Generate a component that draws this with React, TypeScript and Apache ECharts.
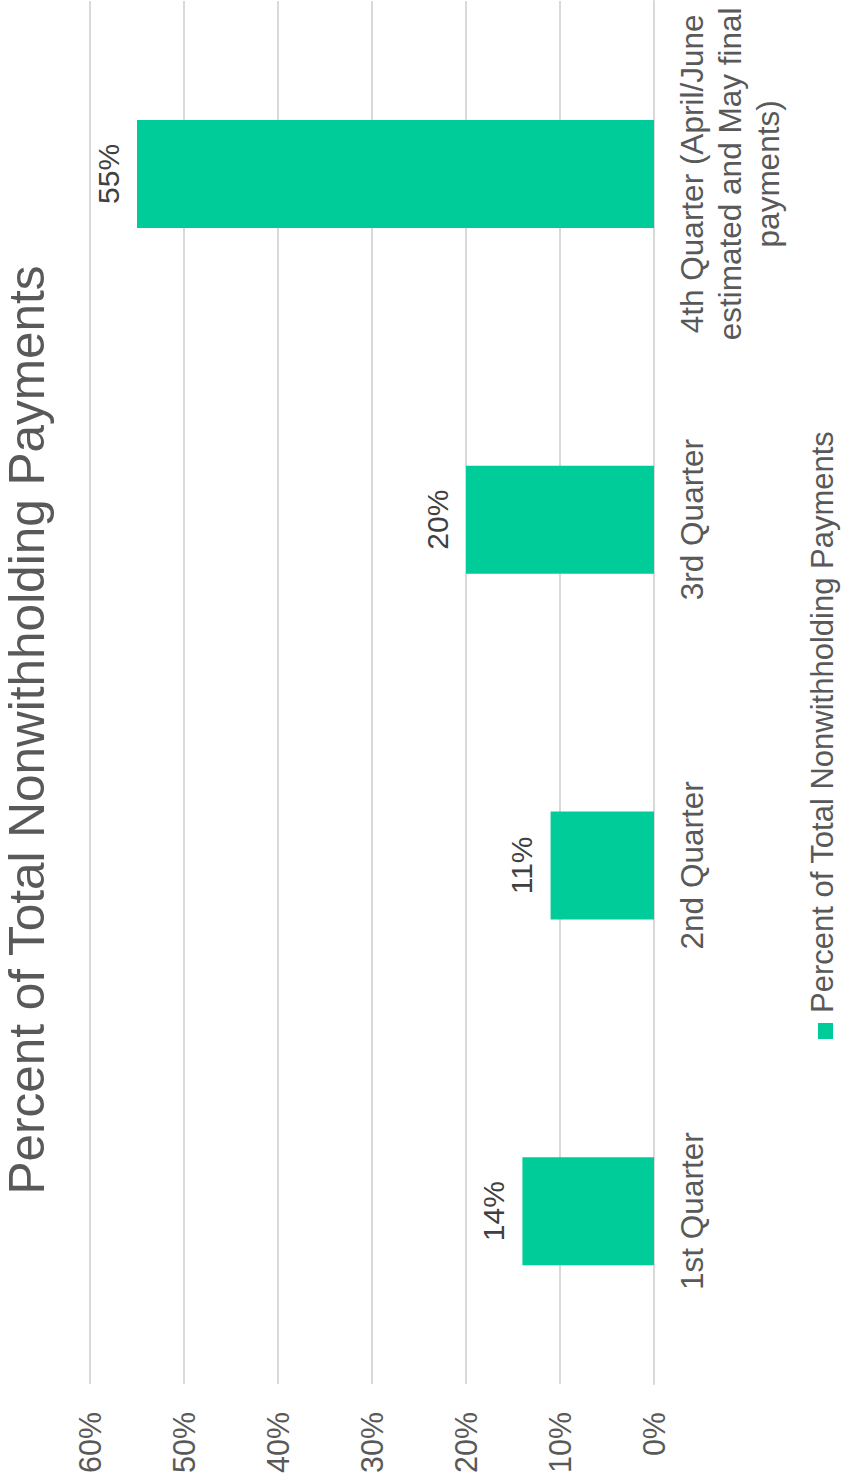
import React, { useEffect, useRef } from "react";
import * as echarts from "echarts";

const categories = [
  "1st Quarter",
  "2nd Quarter",
  "3rd Quarter",
  "4th Quarter (April/June estimated and May final payments)",
];
const values = [14, 11, 20, 55];
const valueTicks = [0, 10, 20, 30, 40, 50, 60];
const seriesName = "Percent of Total Nonwithholding Payments";
const chartTitle = "Percent of Total Nonwithholding Payments";

const BAR_COLOR = "#00CC99";
const TEXT_COLOR = "#595959";
const GRID_COLOR = "#D9D9D9";
const FONT = "'Liberation Sans', Arial, sans-serif";

function wrapLabel(s: string, maxChars: number): string {
  const words = s.split(" ");
  const lines: string[] = [];
  let cur = "";
  for (const w of words) {
    if (!cur) cur = w;
    else if ((cur + " " + w).length <= maxChars) cur = cur + " " + w;
    else {
      lines.push(cur);
      cur = w;
    }
  }
  if (cur) lines.push(cur);
  return lines.join("\n");
}

export default function App() {
  const ref = useRef<HTMLDivElement>(null);
  useEffect(() => {
    document.body.style.margin = "0";
    const chart = echarts.init(ref.current as HTMLDivElement, null, { renderer: "svg" });
    chart.setOption({
      animation: false,
      backgroundColor: "#ffffff",
      textStyle: { fontFamily: FONT },
      grid: { left: 90, right: 191, top: 1, bottom: 100, containLabel: false },
      xAxis: {
        type: "value",
        inverse: true,
        position: "bottom",
        min: valueTicks[0],
        max: valueTicks[valueTicks.length - 1],
        interval: valueTicks[1] - valueTicks[0],
        axisLine: { show: false },
        axisTick: { show: false },
        splitLine: { show: true, lineStyle: { color: GRID_COLOR, width: 2 } },
        axisLabel: {
          rotate: 90,
          margin: 28,
          fontSize: 30.5,
          fontFamily: FONT,
          color: TEXT_COLOR,
          formatter: "{value}%",
        },
      },
      yAxis: {
        type: "category",
        position: "right",
        data: categories,
        axisLine: { show: true, lineStyle: { color: GRID_COLOR, width: 2 } },
        axisTick: { show: false },
        splitLine: { show: false },
        axisLabel: {
          rotate: 90,
          margin: 19,
          fontSize: 31.5,
          lineHeight: 38,
          fontFamily: FONT,
          color: TEXT_COLOR,
          interval: 0,
          formatter: (v: string) => wrapLabel(v, 23),
        },
      },
      series: [
        {
          name: seriesName,
          type: "bar",
          data: values,
          barWidth: 108,
          itemStyle: { color: BAR_COLOR },
          label: {
            show: true,
            position: "left",
            distance: 14,
            rotate: 90,
            align: "center",
            verticalAlign: "bottom",
            fontSize: 30,
            fontFamily: FONT,
            color: "#404040",
            formatter: "{c}%",
          },
        },
      ],
      graphic: [
        {
          type: "text",
          x: 26,
          y: 730,
          rotation: Math.PI / 2,
          style: {
            text: chartTitle,
            fontSize: 49.5,
            fontFamily: FONT,
            fill: TEXT_COLOR,
            align: "center",
            verticalAlign: "middle",
            textAlign: "center",
            textVerticalAlign: "middle",
          },
        },
        {
          type: "group",
          x: 826,
          y: 1031,
          rotation: Math.PI / 2,
          children: [
            {
              type: "rect",
              shape: { x: -8, y: -8, width: 16, height: 15 },
              style: { fill: BAR_COLOR },
            },
            {
              type: "text",
              x: 18,
              y: -3.7,
              style: {
                text: seriesName,
                fontSize: 31,
                fontFamily: FONT,
                fill: TEXT_COLOR,
                align: "left",
                verticalAlign: "middle",
                textAlign: "left",
                textVerticalAlign: "middle",
              },
            },
          ],
        },
      ],
    });
    return () => chart.dispose();
  }, []);
  return <div ref={ref} style={{ width: 845, height: 1484 }} />;
}
